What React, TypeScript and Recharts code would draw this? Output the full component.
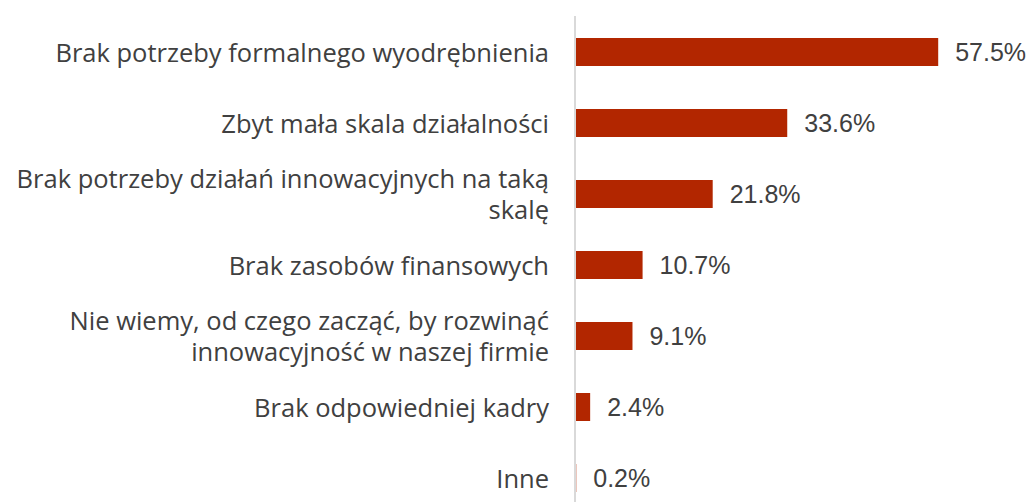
import { Bar, BarChart, LabelList, XAxis, YAxis } from 'recharts';

const categories = [
  'Brak potrzeby formalnego wyodrębnienia',
  'Zbyt mała skala działalności',
  'Brak potrzeby działań innowacyjnych na taką\nskalę',
  'Brak zasobów finansowych',
  'Nie wiemy, od czego zacząć, by rozwinąć\ninnowacyjność w naszej firmie',
  'Brak odpowiedniej kadry',
  'Inne',
];

const shares = [57.5, 33.6, 21.8, 10.7, 9.1, 2.4, 0.2];

const data = categories.map((name, i) => ({ name, value: shares[i] }));

const FONT = '"Open Sans", sans-serif';
const VALUE_FONT = '"Liberation Sans", Arial, sans-serif';
const TEXT = '#404040';

const CategoryTick = (props: any) => {
  const { x, y, payload } = props;
  const lines: string[] = String(payload.value).split('\n');
  const lineH = 31;
  const start = -((lines.length - 1) * lineH) / 2;
  return (
    <text
      x={x - 24}
      y={y}
      textAnchor="end"
      fill={TEXT}
      fontSize={25.5}
      fontFamily={FONT}
    >
      {lines.map((l, i) => (
        <tspan key={i} x={x - 24} dy={i === 0 ? start : lineH} dominantBaseline="central">
          {l}
        </tspan>
      ))}
    </text>
  );
};

const ValueLabel = (props: any) => {
  const { x, y, width, height, value } = props;
  return (
    <text
      x={x + width + 17}
      y={y + height / 2}
      dominantBaseline="central"
      fill={TEXT}
      fontSize={25}
      fontFamily={VALUE_FONT}
    >
      {`${Number(value).toFixed(1)}%`}
    </text>
  );
};

export default function App() {
  return (
    <div style={{ position: 'absolute', left: 0, top: 0 }}>
      <BarChart
        width={1031}
        height={502}
        data={data}
        layout="vertical"
        margin={{ top: 16, right: 77, bottom: -11, left: 0 }}
      >
        <XAxis type="number" domain={[0, 60]} hide />
        <YAxis
          type="category"
          dataKey="name"
          width={575}
          tickLine={false}
          tickSize={0}
          axisLine={{ stroke: '#d9d9d9', strokeWidth: 2 }}
          tick={<CategoryTick />}
          interval={0}
        />
        <Bar dataKey="value" fill="#b22600" barSize={28} isAnimationActive={false}>
          <LabelList dataKey="value" content={<ValueLabel />} />
        </Bar>
      </BarChart>
    </div>
  );
}
